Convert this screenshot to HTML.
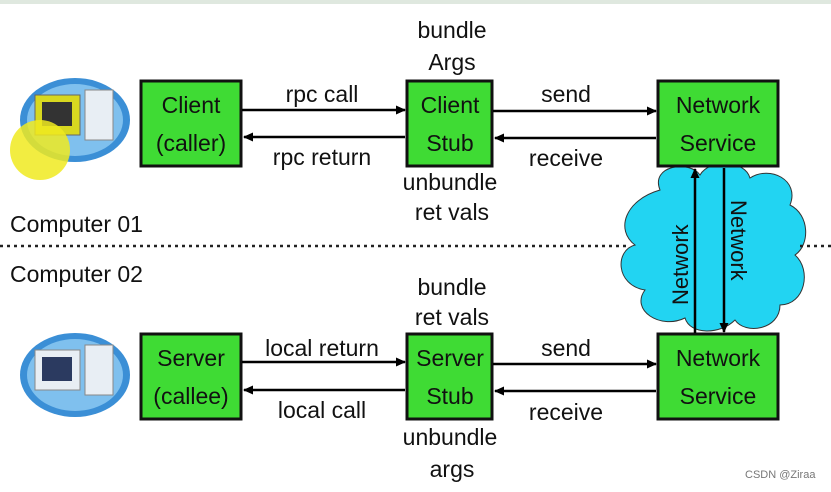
<!DOCTYPE html>
<html><head><style>
body{margin:0;width:831px;height:487px;background:#fff;overflow:hidden;font-family:"Liberation Sans",sans-serif;}
</style></head><body>
<svg width="831" height="487" viewBox="0 0 831 487" xmlns="http://www.w3.org/2000/svg" font-family="Liberation Sans, sans-serif" font-size="23" fill="#111">
<rect x="0" y="0" width="831" height="4" fill="#dfe8df"/>
<defs>
<marker id="a" markerUnits="userSpaceOnUse" markerWidth="10" markerHeight="9" refX="9" refY="4.5" orient="auto"><path d="M0,0L10,4.5L0,9z" fill="#000"/></marker>
</defs>
<!-- computers -->
<ellipse cx="75" cy="120" rx="55" ry="42" fill="#3b8fd6"/>
<ellipse cx="75" cy="120" rx="48" ry="36" fill="#7fc0ee"/>
<rect x="35" y="95" width="45" height="40" fill="#d8d820" stroke="#666"/>
<rect x="42" y="102" width="30" height="24" fill="#333"/>
<rect x="85" y="90" width="28" height="50" fill="#e8eef4" stroke="#888"/>
<circle cx="40" cy="150" r="30" fill="#f0ea20" opacity="0.85"/>
<ellipse cx="75" cy="375" rx="55" ry="42" fill="#3b8fd6"/>
<ellipse cx="75" cy="375" rx="48" ry="36" fill="#7fc0ee"/>
<rect x="35" y="350" width="45" height="40" fill="#e8eef4" stroke="#888"/>
<rect x="42" y="357" width="30" height="24" fill="#2b3a60"/>
<rect x="85" y="345" width="28" height="50" fill="#e8eef4" stroke="#888"/>
<!-- cloud -->
<g fill="#22d4f2" stroke="#333" stroke-width="1">
<path d="M660,190 C650,165 690,160 700,175 C710,158 745,160 750,178 C770,165 800,180 790,205 C810,215 810,245 795,255 C812,270 805,305 780,305 C780,330 745,335 735,320 C720,335 690,335 685,318 C660,330 630,310 645,290 C615,285 615,250 635,245 C615,230 625,200 660,190 Z"/>
</g>
<!-- boxes -->
<g fill="#3fdb34" stroke="#111" stroke-width="3">
<rect x="141" y="81" width="100" height="85"/>
<rect x="407" y="81" width="85" height="85"/>
<rect x="658" y="81" width="120" height="85"/>
<rect x="141" y="334" width="100" height="85"/>
<rect x="407" y="334" width="85" height="85"/>
<rect x="658" y="334" width="120" height="85"/>
</g>
<g text-anchor="middle">
<text x="191" y="113">Client</text><text x="191" y="151">(caller)</text>
<text x="450" y="113">Client</text><text x="450" y="151">Stub</text>
<text x="718" y="113">Network</text><text x="718" y="151">Service</text>
<text x="191" y="366">Server</text><text x="191" y="404">(callee)</text>
<text x="450" y="366">Server</text><text x="450" y="404">Stub</text>
<text x="718" y="366">Network</text><text x="718" y="404">Service</text>
<text x="452" y="38">bundle</text><text x="452" y="70">Args</text>
<text x="450" y="190">unbundle</text><text x="452" y="220">ret vals</text>
<text x="452" y="295">bundle</text><text x="452" y="325">ret vals</text>
<text x="450" y="445">unbundle</text><text x="452" y="477">args</text>
<text x="322" y="102">rpc call</text><text x="322" y="165">rpc return</text>
<text x="566" y="102">send</text><text x="566" y="166">receive</text>
<text x="322" y="356">local return</text><text x="322" y="418">local call</text>
<text x="566" y="356">send</text><text x="566" y="420">receive</text>
</g>
<g stroke="#000" stroke-width="2.5">
<line x1="242" y1="110" x2="405" y2="110" marker-end="url(#a)"/>
<line x1="405" y1="137" x2="244" y2="137" marker-end="url(#a)"/>
<line x1="493" y1="111" x2="656" y2="111" marker-end="url(#a)"/>
<line x1="656" y1="138" x2="495" y2="138" marker-end="url(#a)"/>
<line x1="242" y1="362" x2="405" y2="362" marker-end="url(#a)"/>
<line x1="405" y1="390" x2="244" y2="390" marker-end="url(#a)"/>
<line x1="493" y1="364" x2="656" y2="364" marker-end="url(#a)"/>
<line x1="656" y1="391" x2="495" y2="391" marker-end="url(#a)"/>
<line x1="695" y1="333" x2="695" y2="169" marker-end="url(#a)"/>
<line x1="724" y1="168" x2="724" y2="332" marker-end="url(#a)"/>
</g>
<text transform="translate(688,305) rotate(-90)" font-size="22">Network</text>
<text transform="translate(731,200) rotate(90)" font-size="22">Network</text>
<line x1="0" y1="246" x2="628" y2="246" stroke="#222" stroke-width="2.5" stroke-dasharray="3,4"/>
<line x1="800" y1="246" x2="831" y2="246" stroke="#222" stroke-width="2.5" stroke-dasharray="3,4"/>
<text x="10" y="232">Computer 01</text>
<text x="10" y="282">Computer 02</text>
<text x="745" y="478" font-size="11" fill="#777">CSDN @Ziraa</text>
</svg>
</body></html>
